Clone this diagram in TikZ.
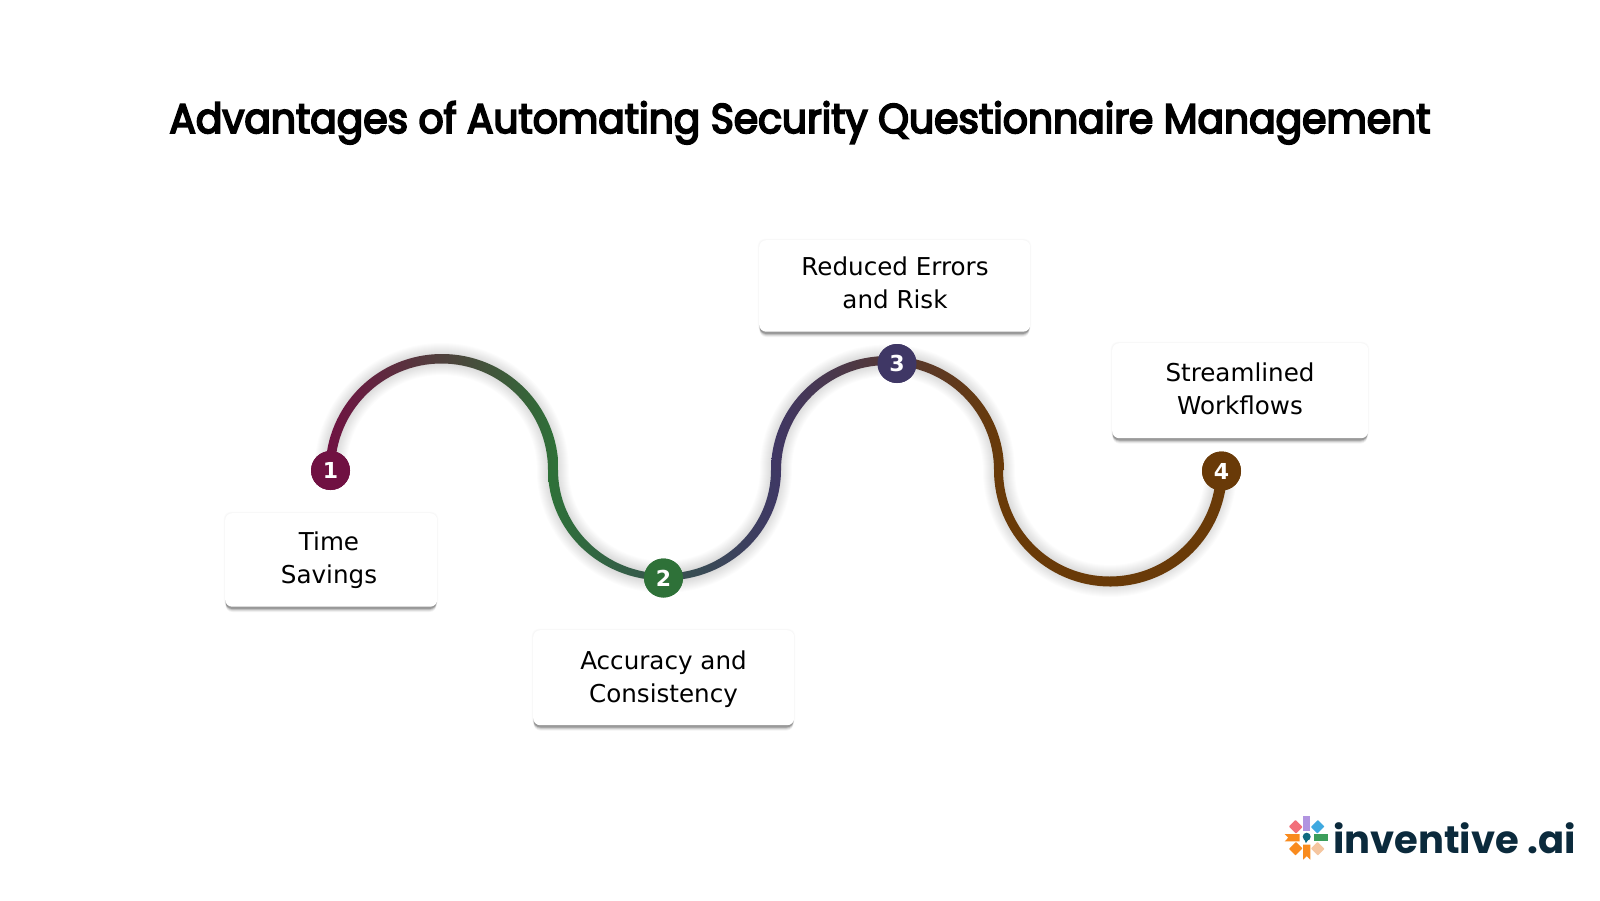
\documentclass[tikz,border=0pt]{standalone}
\usepackage{fontspec}
\setmainfont{DejaVu Sans}
\newfontfamily\titlefont[FakeBold=4.5,FakeStretch=0.945]{Poppins}
\newfontfamily\logofont{Poppins}
\definecolor{cA}{HTML}{701142}
\definecolor{cB}{HTML}{2E7138}
\definecolor{cC}{HTML}{3F3765}
\definecolor{cD}{HTML}{693A08}
\definecolor{logotxt}{HTML}{0B2A3C}
\definecolor{lpurple}{HTML}{B194E0}
\definecolor{lblue}{HTML}{3FA9E0}
\definecolor{lgreen}{HTML}{3C9E5B}
\definecolor{lpeach}{HTML}{F5C6A0}
\definecolor{lorange}{HTML}{F98B1E}
\definecolor{lcoral}{HTML}{F2707A}
\definecolor{lteal}{HTML}{0F6A80}
\tikzset{
  card/.style={fill=white,rounded corners=7pt,draw=none},
  cardtext/.style={align=center,font=\fontsize{24.6}{33}\selectfont,text=black,inner sep=0pt},
  dot/.style={circle,minimum size=39pt,inner sep=0pt,text=white,font=\fontsize{22}{22}\selectfont\bfseries},
  wire/.style={line width=4pt},
}
\newcommand{\softshadow}[1]{%
  \foreach \w in {32,30,28,26,24,22,20,18,16,14,12,10,8,6}{%
    \draw[black,opacity=0.012,line width=\w pt,xshift=-6pt,yshift=15pt] #1;
  }%
}
\newcommand{\cardbox}[5]{%
  \foreach \s/\o in {5.5/0.05,4.5/0.08,3.5/0.13,2.5/0.2}{%
    \fill[black,opacity=\o,rounded corners=7pt] (#2+0.5,#3+\s) rectangle (#4-0.5,#5+\s);
  }
  \foreach \s in {1.2,0.6}{%
    \fill[black,opacity=0.015,rounded corners=7pt] (#2-\s,#3-\s) rectangle (#4+\s,#5+\s);
  }
  \node[card,minimum width=#4pt-#2pt,minimum height=#5pt-#3pt,anchor=north west] (#1) at (#2,#3) {};
}
\newcommand{\petal}[2]{\fill[#2,rotate=-#1] (-3.7,-7) -- (3.7,-7) -- (3.7,-21.7) -- (-3.7,-21.7) -- cycle;}
\newcommand{\tailpetal}[2]{\fill[#2,rotate=-#1] (-3.7,-7) -- (3.7,-7) -- (3.7,-22) -- (0,-18.5) -- (-3.7,-22) -- cycle;}
\newcommand{\squarepetal}[2]{\fill[#2,rotate=-#1,rounded corners=0.6pt] (-4.6,-10.5) -- (4.6,-10.5) -- (4.6,-20.5) -- (-4.6,-20.5) -- cycle;}
\begin{document}
\begin{tikzpicture}[x=1pt,y=-1pt]
\useasboundingbox (0,0) rectangle (1600,900);
\fill[white] (0,0) rectangle (1600,900);

\node[anchor=base,inner sep=0pt,font=\titlefont\fontsize{41.5}{41.5}\selectfont] (title) at (800,133) {Advantages of Automating Security Questionnaire Management};

\coordinate (p1) at (330.5,470);
\coordinate (j1) at (553,470);
\coordinate (j2) at (776,470);
\coordinate (j3) at (999,470);
\coordinate (p4) at (1221,470);

\softshadow{(p1) arc[start angle=180,end angle=360,x radius=111.2,y radius=111] arc[start angle=180,end angle=0,x radius=111.5,y radius=107] arc[start angle=180,end angle=360,x radius=111.5,y radius=109.5] arc[start angle=180,end angle=0,x radius=111,y radius=111]}

\cardbox{b1}{225}{513}{437}{606.5}
\cardbox{b2}{533}{630}{794}{725}
\cardbox{b3}{759}{240}{1030}{331.5}
\cardbox{b4}{1112}{343}{1368}{438}

\node[dot,fill=cA] (n1) at (330.5,470.5) {};
\node[dot,fill=cB] (n2) at (663.5,578) {};
\node[dot,fill=cC] (n3) at (897,363.5) {};
\node[dot,fill=cD] (n4) at (1221.5,471) {};

\draw[wire,cA] (p1) arc[start angle=180,end angle=360,x radius=111.2,y radius=111];
\draw[wire,cB] (j1) arc[start angle=180,end angle=0,x radius=111.5,y radius=107];
\draw[wire,cC] (j2) arc[start angle=180,end angle=360,x radius=111.5,y radius=109.5];
\draw[wire,cD] (j3) arc[start angle=180,end angle=0,x radius=111,y radius=111];

% tapered, colour-graded bands over the wires
\shade[left color=cA,right color=cB]
  (325.5,470) arc[start angle=180,end angle=360,x radius=116.5,y radius=116] -- (548,470)
  arc[start angle=360,end angle=180,x radius=106.5,y radius=106.5] -- cycle;
\shade[left color=cB,right color=cC]
  (548,470) arc[start angle=180,end angle=0,x radius=116.5,y radius=110.5] -- (771,470)
  arc[start angle=0,end angle=180,x radius=106.5,y radius=103.5] -- cycle;
\shade[left color=cC,right color=cD]
  (771,470) arc[start angle=180,end angle=360,x radius=116.5,y radius=114] -- (994,470)
  arc[start angle=360,end angle=180,x radius=106.5,y radius=105] -- cycle;
\fill[cD]
  (994,470) arc[start angle=180,end angle=0,x radius=116.5,y radius=116.5] -- (1216,470)
  arc[start angle=0,end angle=180,x radius=106.5,y radius=106.5] -- cycle;

\node[dot,fill=cA] (m1) at (n1) {1};
\node[dot,fill=cB] (m2) at (n2) {2};
\node[dot,fill=cC] (m3) at (n3) {3};
\node[dot,fill=cD] (m4) at (n4) {4};

\node[cardtext] (t1) at (329,560.5) {Time\\Savings};
\node[cardtext] (t2) at (663.5,679.5) {Accuracy and\\Consistency};
\node[cardtext] (t3) at (895,283) {Reduced Errors\\and Risk};
\node[cardtext] (t4) at (1240,389) {Streamlined\\Workflows};

% logo
\begin{scope}[shift={(1306.7,837.7)}]
\petal{0}{lpurple}
\squarepetal{45}{lblue}
\petal{90}{lgreen}
\squarepetal{135}{lpeach}
\tailpetal{180}{lorange}
\squarepetal{225}{lorange}
\tailpetal{270}{lorange}
\squarepetal{315}{lcoral}
\fill[lteal] (0,-1) circle (4);
\fill[lteal] (-3,0) -- (1.5,2) -- (-0.8,5.5) -- cycle;
\end{scope}
\node[anchor=base west,inner sep=0pt,text=logotxt,font=\logofont\bfseries\fontsize{38.5}{38.5}\selectfont] (logo) at (1333,853) {inventive .ai};
\end{tikzpicture}
\end{document}
